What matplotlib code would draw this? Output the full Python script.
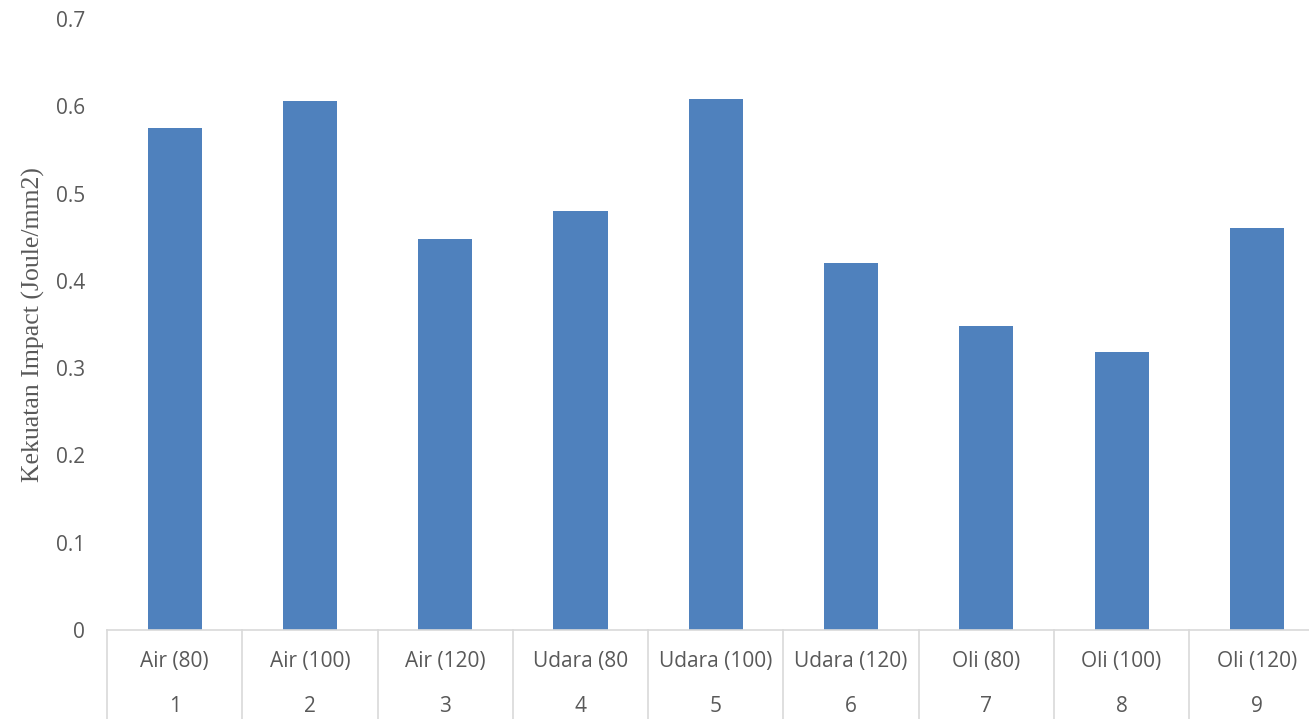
import matplotlib
matplotlib.use("Agg")
import matplotlib.pyplot as plt

categories = ["Air (80)", "Air (100)", "Air (120)", "Udara (80", "Udara (100)",
              "Udara (120)", "Oli (80)", "Oli (100)", "Oli (120)"]
numbers = ["1", "2", "3", "4", "5", "6", "7", "8", "9"]
values = [0.575, 0.606, 0.448, 0.480, 0.608, 0.421, 0.348, 0.319, 0.461]
yticks = [0, 0.1, 0.2, 0.3, 0.4, 0.5, 0.6, 0.7]
ylabel = "Kekuatan Impact (Joule/mm2)"

W, H = 1309, 719
fig = plt.figure(figsize=(W / 100, H / 100), dpi=100)
left, right, bottom, top = 107, 1324.5, 630, 19
ax = fig.add_axes([left / W, 1 - bottom / H, (right - left) / W, (bottom - top) / H])

FONT = ["Open Sans", "DejaVu Sans"]
FS = 15
x = list(range(len(values)))
ax.bar(x, values, width=0.4, color="#4F81BD")
ax.set_xlim(-0.5, len(values) - 0.5)
ax.set_ylim(0, 0.7)
ax.set_yticks(yticks)
ax.set_yticklabels(["0" if v == 0 else f"{v:.1f}" for v in yticks])
ax.tick_params(axis="y", length=0, pad=16, labelsize=FS, labelcolor="#595959")
ax.set_xticks([])
for s in ["top", "right", "left"]:
    ax.spines[s].set_visible(False)
ax.spines["bottom"].set_color("#D9D9D9")
ax.spines["bottom"].set_linewidth(1.2)
for lab in ax.get_yticklabels():
    lab.set_family(FONT)

trans = ax.get_xaxis_transform()
axh = bottom - top
y1 = -(661 - bottom) / axh
y2 = -(706 - bottom) / axh
ybot = -(H - bottom + 5) / axh
for i in range(len(values) + 1):
    ax.plot([i - 0.5, i - 0.5], [0, ybot], transform=trans, color="#D9D9D9",
            lw=1.2, clip_on=False)
for i, (c, n) in enumerate(zip(categories, numbers)):
    ax.text(i, y1, c, transform=trans, ha="center", va="center", fontsize=FS,
            color="#595959", family=FONT)
    ax.text(i, y2, n, transform=trans, ha="center", va="center", fontsize=FS,
            color="#595959", family=FONT)

fig.text(33 / W, 1 - 325 / H, ylabel, rotation=90, ha="center", va="center",
         fontsize=18.5, color="#595959", family=["Liberation Serif", "DejaVu Serif"])

fig.savefig("out.png", dpi=100)
